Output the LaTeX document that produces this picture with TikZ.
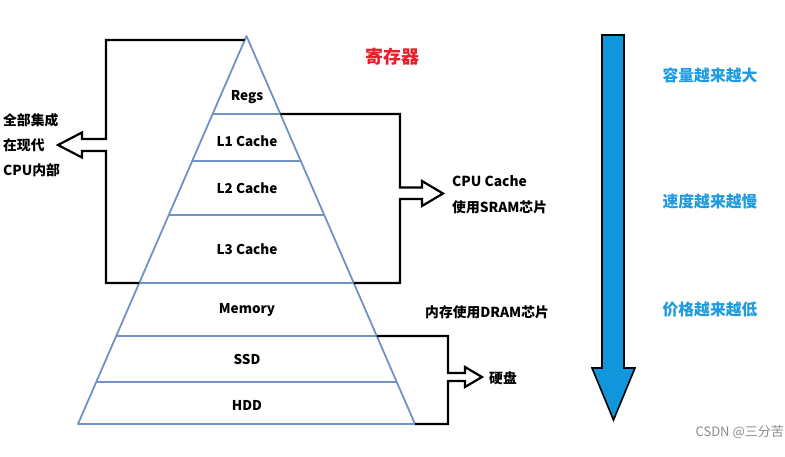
\documentclass[tikz,border=0pt]{standalone}
\usepackage{fontspec}
\setmainfont{Noto Sans CJK SC}
\begin{document}
\begin{tikzpicture}[x=1pt,y=-1pt,
  layer/.style={draw=pyr,line width=1.8pt},
  bracket/.style={draw=black,line width=2.2pt,line join=miter},
  lbl/.style={font=\fontsize{13.5}{15}\selectfont\bfseries,inner sep=0pt},
  side/.style={font=\fontsize{13.8}{15}\selectfont\bfseries,inner sep=0pt,anchor=west},
  bluetxt/.style={font=\fontsize{15.8}{17}\selectfont\bfseries,text=txtblue,inner sep=0pt}]
\definecolor{pyr}{RGB}{112,146,196}
\definecolor{arrblue}{RGB}{18,150,219}
\definecolor{txtblue}{RGB}{30,155,224}
\definecolor{regred}{RGB}{232,30,40}
\useasboundingbox (0,0) rectangle (785,457);
\fill[white] (0,0) rectangle (785,457);
% pyramid
\coordinate (apex) at (246.5,36);
\coordinate (bl) at (78,424);
\coordinate (br) at (415,424);
\draw[layer,line join=round] (bl) -- (apex) -- (br) -- cycle;
\foreach \y/\h [count=\i] in {114/33.9,161/54.3,215/77.7,283/107.3,336/130.3,382/150.3}{
  \coordinate (l\i) at (246.5-\h,\y);
  \coordinate (r\i) at (246.5+\h,\y);
  \draw[layer] (l\i) -- (r\i);
}
% layer labels
\node[lbl] (regs) at (247,97) {Regs};
\node[lbl] (l1c) at (247,141) {L1 Cache};
\node[lbl] (l2c) at (247,188) {L2 Cache};
\node[lbl] (l3c) at (247,249) {L3 Cache};
\node[lbl] (mem) at (247,310) {Memory};
\node[lbl] (ssd) at (247,359) {SSD};
\node[lbl] (hdd) at (247,405) {HDD};
% left bracket
\coordinate (ltop) at (244.5,40);
\draw[bracket] (ltop) -- (106,40) -- (106,139) -- (82,139) -- (82,132.5) -- (58,145) -- (82,157.5) -- (82,151) -- (106,151) -- (106,283) -- (l4);
\node[side] (t1) at (3,120) {全部集成};
\node[side] (t2) at (3,145) {在现代};
\node[side] (t3) at (3,170) {CPU内部};
% right bracket (CPU cache)
\draw[bracket] (r1) -- (400,114) -- (400,187.5) -- (422,187.5) -- (422,181) -- (443,193.5) -- (422,206) -- (422,199) -- (400,199) -- (400,283) -- (r4);
\node[side] (cc1) at (452,181) {CPU Cache};
\node[side] (cc2) at (452,207) {使用SRAM芯片};
% DRAM label
\node[side] (dram) at (425,312) {内存使用DRAM芯片};
% disk bracket
\draw[bracket] (r5) -- (448,336) -- (448,373) -- (465,373) -- (465,367) -- (482,377) -- (465,387) -- (465,381) -- (448,381) -- (448,424) -- (br);
\node[side] (disk) at (489,378) {硬盘};
% title
\node[font=\fontsize{18}{20}\selectfont\bfseries,text=regred,inner sep=0pt] (reg) at (392,57) {寄存器};
% blue arrow
\draw[fill=arrblue,draw=black,line width=1.6pt,line join=miter] (602,35) -- (624,35) -- (624,368) -- (635,368) -- (613.5,420) -- (592,368) -- (602,368) -- cycle;
\node[bluetxt] (b1) at (710,75) {容量越来越大};
\node[bluetxt] (b2) at (710,201) {速度越来越慢};
\node[bluetxt] (b3) at (710,310) {价格越来越低};
% watermark
\node[font=\fontsize{13}{15}\selectfont,text=black!45,inner sep=0pt,anchor=east] (wm) at (784,432) {CSDN @三分苦};
\end{tikzpicture}
\end{document}
